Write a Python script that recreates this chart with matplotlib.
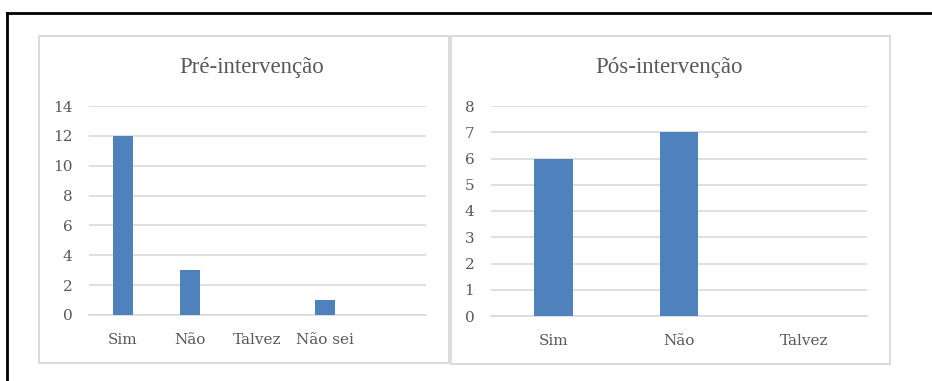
import matplotlib.pyplot as plt
from matplotlib.patches import Rectangle
from matplotlib.lines import Line2D

# dados
cats_pre = ['Sim', 'Não', 'Talvez', 'Não sei', '']
vals_pre = [12, 3, 0, 1, 0]
cats_pos = ['Sim', 'Não', 'Talvez']
vals_pos = [6, 7, 0]

W, H = 932, 381
bar_color = '#4f81bd'
grid_color = '#d9d9d9'
text_color = '#595959'


def px_axes(fig, x0, x1, ytop, ybot):
    return fig.add_axes([x0 / W, (H - ybot) / H, (x1 - x0) / W, (ybot - ytop) / H])


def draw_panel(ax, cats, vals, ymax, step, width):
    x = range(len(cats))
    ax.bar(x, vals, width=width, color=bar_color, zorder=3)
    ax.set_xlim(-0.5, len(cats) - 0.5)
    ax.set_ylim(0, ymax)
    ax.set_yticks(range(0, ymax + 1, step))
    ax.set_xticks(list(x))
    ax.set_xticklabels(cats)
    ax.grid(axis='y', color=grid_color, linewidth=1.2, zorder=0)
    ax.set_axisbelow(True)
    for s in ['top', 'right', 'left']:
        ax.spines[s].set_visible(False)
    ax.spines['bottom'].set_color(grid_color)
    ax.spines['bottom'].set_linewidth(1.2)
    ax.tick_params(length=0, colors=text_color, labelsize=11)
    ax.tick_params(axis='y', pad=12)
    ax.tick_params(axis='x', pad=13)
    for lab in ax.get_xticklabels() + ax.get_yticklabels():
        lab.set_fontfamily('DejaVu Serif')


fig = plt.figure(figsize=(W / 100, H / 100), dpi=100)

# moldura preta (topo e esquerda)
fig.add_artist(Line2D([7 / W, 1], [1 - 13 / H, 1 - 13 / H], color='black', linewidth=2))
fig.add_artist(Line2D([7 / W, 7 / W], [0, 1 - 13 / H], color='black', linewidth=2))

# caixas dos graficos
for x0, x1, y0, y1 in [(39, 449, 36, 363), (451, 890, 36, 364)]:
    fig.add_artist(Rectangle((x0 / W, (H - y1) / H), (x1 - x0) / W, (y1 - y0) / H,
                             fill=False, edgecolor=grid_color, linewidth=1.3))

ax1 = px_axes(fig, 89, 426, 106, 315)
draw_panel(ax1, cats_pre, vals_pre, 14, 2, 0.3)

ax2 = px_axes(fig, 491, 867, 106, 316)
draw_panel(ax2, cats_pos, vals_pos, 8, 1, 0.31)

fig.text(252 / W, 1 - 68 / H, 'Pré-intervenção', ha='center', va='center',
         fontsize=16.5, color=text_color, fontfamily='Liberation Serif')
fig.text(669 / W, 1 - 68 / H, 'Pós-intervenção', ha='center', va='center',
         fontsize=16.5, color=text_color, fontfamily='Liberation Serif')

fig.savefig('out.png', dpi=100)
